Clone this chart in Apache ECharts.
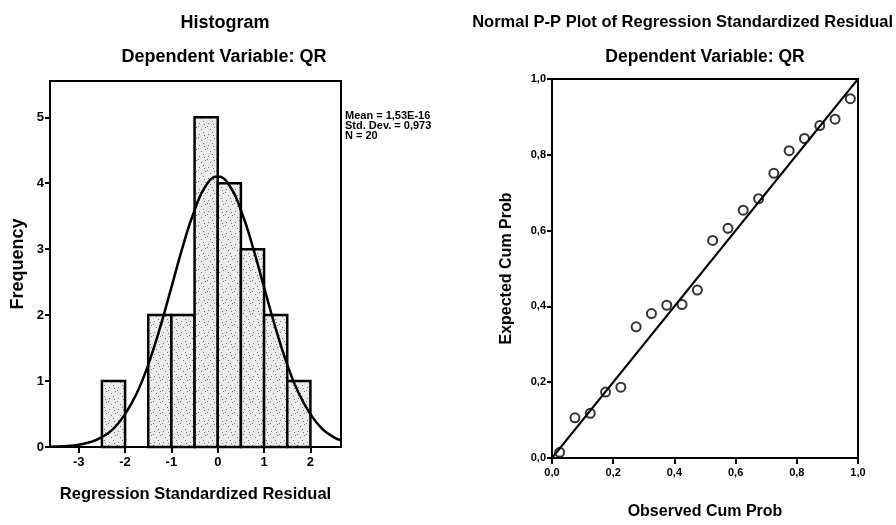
<!DOCTYPE html>
<html><head><meta charset="utf-8">
<script src="https://cdn.jsdelivr.net/npm/echarts@6/dist/echarts.min.js"></script>
<style>html,body{margin:0;padding:0;background:#fff}#c{width:896px;height:525px}</style>
</head><body><div id="c"></div>
<script>
// ---- Histogram data ----
const binStarts = [-2.5, -2, -1.5, -1, -0.5, 0, 0.5, 1, 1.5];
const binWidth = 0.5;
const frequencies = [1, 0, 2, 2, 5, 4, 3, 2, 1];
const histXTicks = [-3, -2, -1, 0, 1, 2];
const histYTicks = [0, 1, 2, 3, 4, 5];
// normal curve
const curveX = [-3.62, -3.5, -3.25, -3, -2.75, -2.5, -2.25, -2, -1.75, -1.5, -1.25, -1, -0.75, -0.5, -0.25, 0, 0.25, 0.5, 0.75, 1, 1.25, 1.5, 1.75, 2, 2.25, 2.5, 2.66];
const curveY = [0.004, 0.006, 0.015, 0.035, 0.075, 0.15, 0.28, 0.50, 0.81, 1.25, 1.80, 2.42, 3.05, 3.59, 3.97, 4.10, 3.97, 3.59, 3.05, 2.42, 1.80, 1.25, 0.81, 0.50, 0.28, 0.15, 0.10];
const statsLines = ['Mean = 1,53E-16', 'Std. Dev. = 0,973', 'N = 20'];

// ---- P-P plot data ----
const observedCum = [0.025, 0.075, 0.125, 0.175, 0.225, 0.275, 0.325, 0.375, 0.425, 0.475, 0.525, 0.575, 0.625, 0.675, 0.725, 0.775, 0.825, 0.875, 0.925, 0.975];
const expectedCum = [0.015, 0.106, 0.118, 0.174, 0.187, 0.346, 0.381, 0.403, 0.405, 0.443, 0.574, 0.606, 0.654, 0.684, 0.751, 0.811, 0.843, 0.877, 0.894, 0.948];
const refLineX = [0, 1];
const refLineY = [0, 1];

const FONT = "'Liberation Sans Narrow', 'Liberation Sans', Arial, sans-serif";
const chart = echarts.init(document.getElementById('c'));

function makePattern() {
  const c = document.createElement('canvas');
  c.width = 9; c.height = 11;
  const g = c.getContext('2d');
  g.fillStyle = '#ececec'; g.fillRect(0, 0, 9, 11);
  g.fillStyle = '#7a7a7a';
  [[1,2],[5,0],[7,6],[3,8],[0,5],[6,3]].forEach(p => g.fillRect(p[0], p[1], 1, 1));
  return { image: c, repeat: 'repeat' };
}
const pattern = makePattern();

const histData = binStarts.map((s, i) => [s, frequencies[i]]);
const curveData = curveX.map((x, i) => [x, curveY[i]]);
const ppData = observedCum.map((x, i) => [x, expectedCum[i]]);
const refData = refLineX.map((x, i) => [x, refLineY[i]]);

const labelL = { fontFamily: FONT, fontWeight: 'bold', fontSize: 13, color: '#000' };
const labelR = { fontFamily: FONT, fontWeight: 'bold', fontSize: 11, color: '#000' };
const comma = v => v.toFixed(1).replace('.', ',');

chart.setOption({
  animation: false,
  backgroundColor: '#fff',
  grid: [
    { left: 50, top: 81, width: 291, height: 366, show: true, borderColor: '#000', borderWidth: 2, containLabel: false },
    { left: 552, top: 79, width: 306, height: 388, show: true, borderColor: '#000', borderWidth: 2, containLabel: false }
  ],
  xAxis: [
    { gridIndex: 0, type: 'value', min: -3.62, max: 2.66,
      name: 'Regression Standardized Residual', nameLocation: 'middle', nameGap: 39,
      nameTextStyle: { fontFamily: FONT, fontWeight: 'bold', fontSize: 16.5, color: '#000' },
      splitLine: { show: false },
      axisLine: { show: true, onZero: false, lineStyle: { color: '#000', width: 2 } },
      axisTick: { show: true, customValues: histXTicks, length: 6, lineStyle: { color: '#000', width: 2 } },
      axisLabel: Object.assign({ customValues: histXTicks, margin: 9 }, labelL) },
    { gridIndex: 1, type: 'value', min: 0, max: 1, interval: 0.2,
      name: 'Observed Cum Prob', nameLocation: 'middle', nameGap: 46,
      nameTextStyle: { fontFamily: FONT, fontWeight: 'bold', fontSize: 16, color: '#000' },
      splitLine: { show: false },
      axisLine: { show: true, onZero: false, lineStyle: { color: '#000', width: 2 } },
      axisTick: { show: true, length: 6, lineStyle: { color: '#000', width: 2 } },
      axisLabel: Object.assign({ formatter: comma, margin: 9 }, labelR) }
  ],
  yAxis: [
    { gridIndex: 0, type: 'value', min: 0, max: 5.55,
      name: 'Frequency', nameLocation: 'middle', nameGap: 23,
      nameTextStyle: { fontFamily: FONT, fontWeight: 'bold', fontSize: 18, color: '#000' },
      splitLine: { show: false },
      axisLine: { show: true, onZero: false, lineStyle: { color: '#000', width: 2 } },
      axisTick: { show: true, customValues: histYTicks, length: 5, lineStyle: { color: '#000', width: 2 } },
      axisLabel: Object.assign({ customValues: histYTicks, margin: 6 }, labelL) },
    { gridIndex: 1, type: 'value', min: 0, max: 1, interval: 0.2,
      name: 'Expected Cum Prob', nameLocation: 'middle', nameGap: 37,
      nameTextStyle: { fontFamily: FONT, fontWeight: 'bold', fontSize: 16, color: '#000' },
      splitLine: { show: false },
      axisLine: { show: true, onZero: false, lineStyle: { color: '#000', width: 2 } },
      axisTick: { show: true, length: 5, lineStyle: { color: '#000', width: 2 } },
      axisLabel: Object.assign({ formatter: comma, margin: 6 }, labelR) }
  ],
  series: [
    { type: 'custom', xAxisIndex: 0, yAxisIndex: 0, data: histData, z: 2,
      encode: { x: 0, y: 1 },
      renderItem: function (params, api) {
        const x0 = api.value(0), h = api.value(1);
        if (!h) return null;
        const p0 = api.coord([x0, h]);
        const p1 = api.coord([x0 + binWidth, 0]);
        return { type: 'rect',
          shape: { x: p0[0], y: p0[1], width: p1[0] - p0[0], height: p1[1] - p0[1] },
          style: { fill: pattern, stroke: '#000', lineWidth: 2.5 } };
      } },
    { type: 'line', xAxisIndex: 0, yAxisIndex: 0, data: curveData, smooth: true, showSymbol: false, symbol: 'none', z: 3,
      lineStyle: { color: '#000', width: 2.5 } },
    { type: 'line', xAxisIndex: 1, yAxisIndex: 1, data: refData, showSymbol: false, symbol: 'none', z: 2,
      lineStyle: { color: '#000', width: 2 } },
    { type: 'scatter', xAxisIndex: 1, yAxisIndex: 1, data: ppData, symbol: 'circle', symbolSize: 9, z: 3,
      itemStyle: { color: 'transparent', borderColor: '#000', borderWidth: 2 } }
  ],
  graphic: [
    { type: 'text', x: 225, y: 23, style: { text: 'Histogram', align: 'center', verticalAlign: 'middle', font: 'bold 18px ' + FONT, fill: '#000' } },
    { type: 'text', x: 224, y: 57, style: { text: 'Dependent Variable: QR', align: 'center', verticalAlign: 'middle', font: 'bold 18px ' + FONT, fill: '#000' } },
    { type: 'text', x: 893, y: 22, style: { text: 'Normal P-P Plot of Regression Standardized Residual', align: 'right', verticalAlign: 'middle', font: 'bold 16.5px ' + FONT, fill: '#000' } },
    { type: 'text', x: 705, y: 57, style: { text: 'Dependent Variable: QR', align: 'center', verticalAlign: 'middle', font: 'bold 17.5px ' + FONT, fill: '#000' } },
    { type: 'text', x: 345, y: 111, style: { text: statsLines.join('\n'), lineHeight: 10, font: 'bold 11px ' + FONT, fill: '#000' } }
  ]
});
</script>
</body></html>
